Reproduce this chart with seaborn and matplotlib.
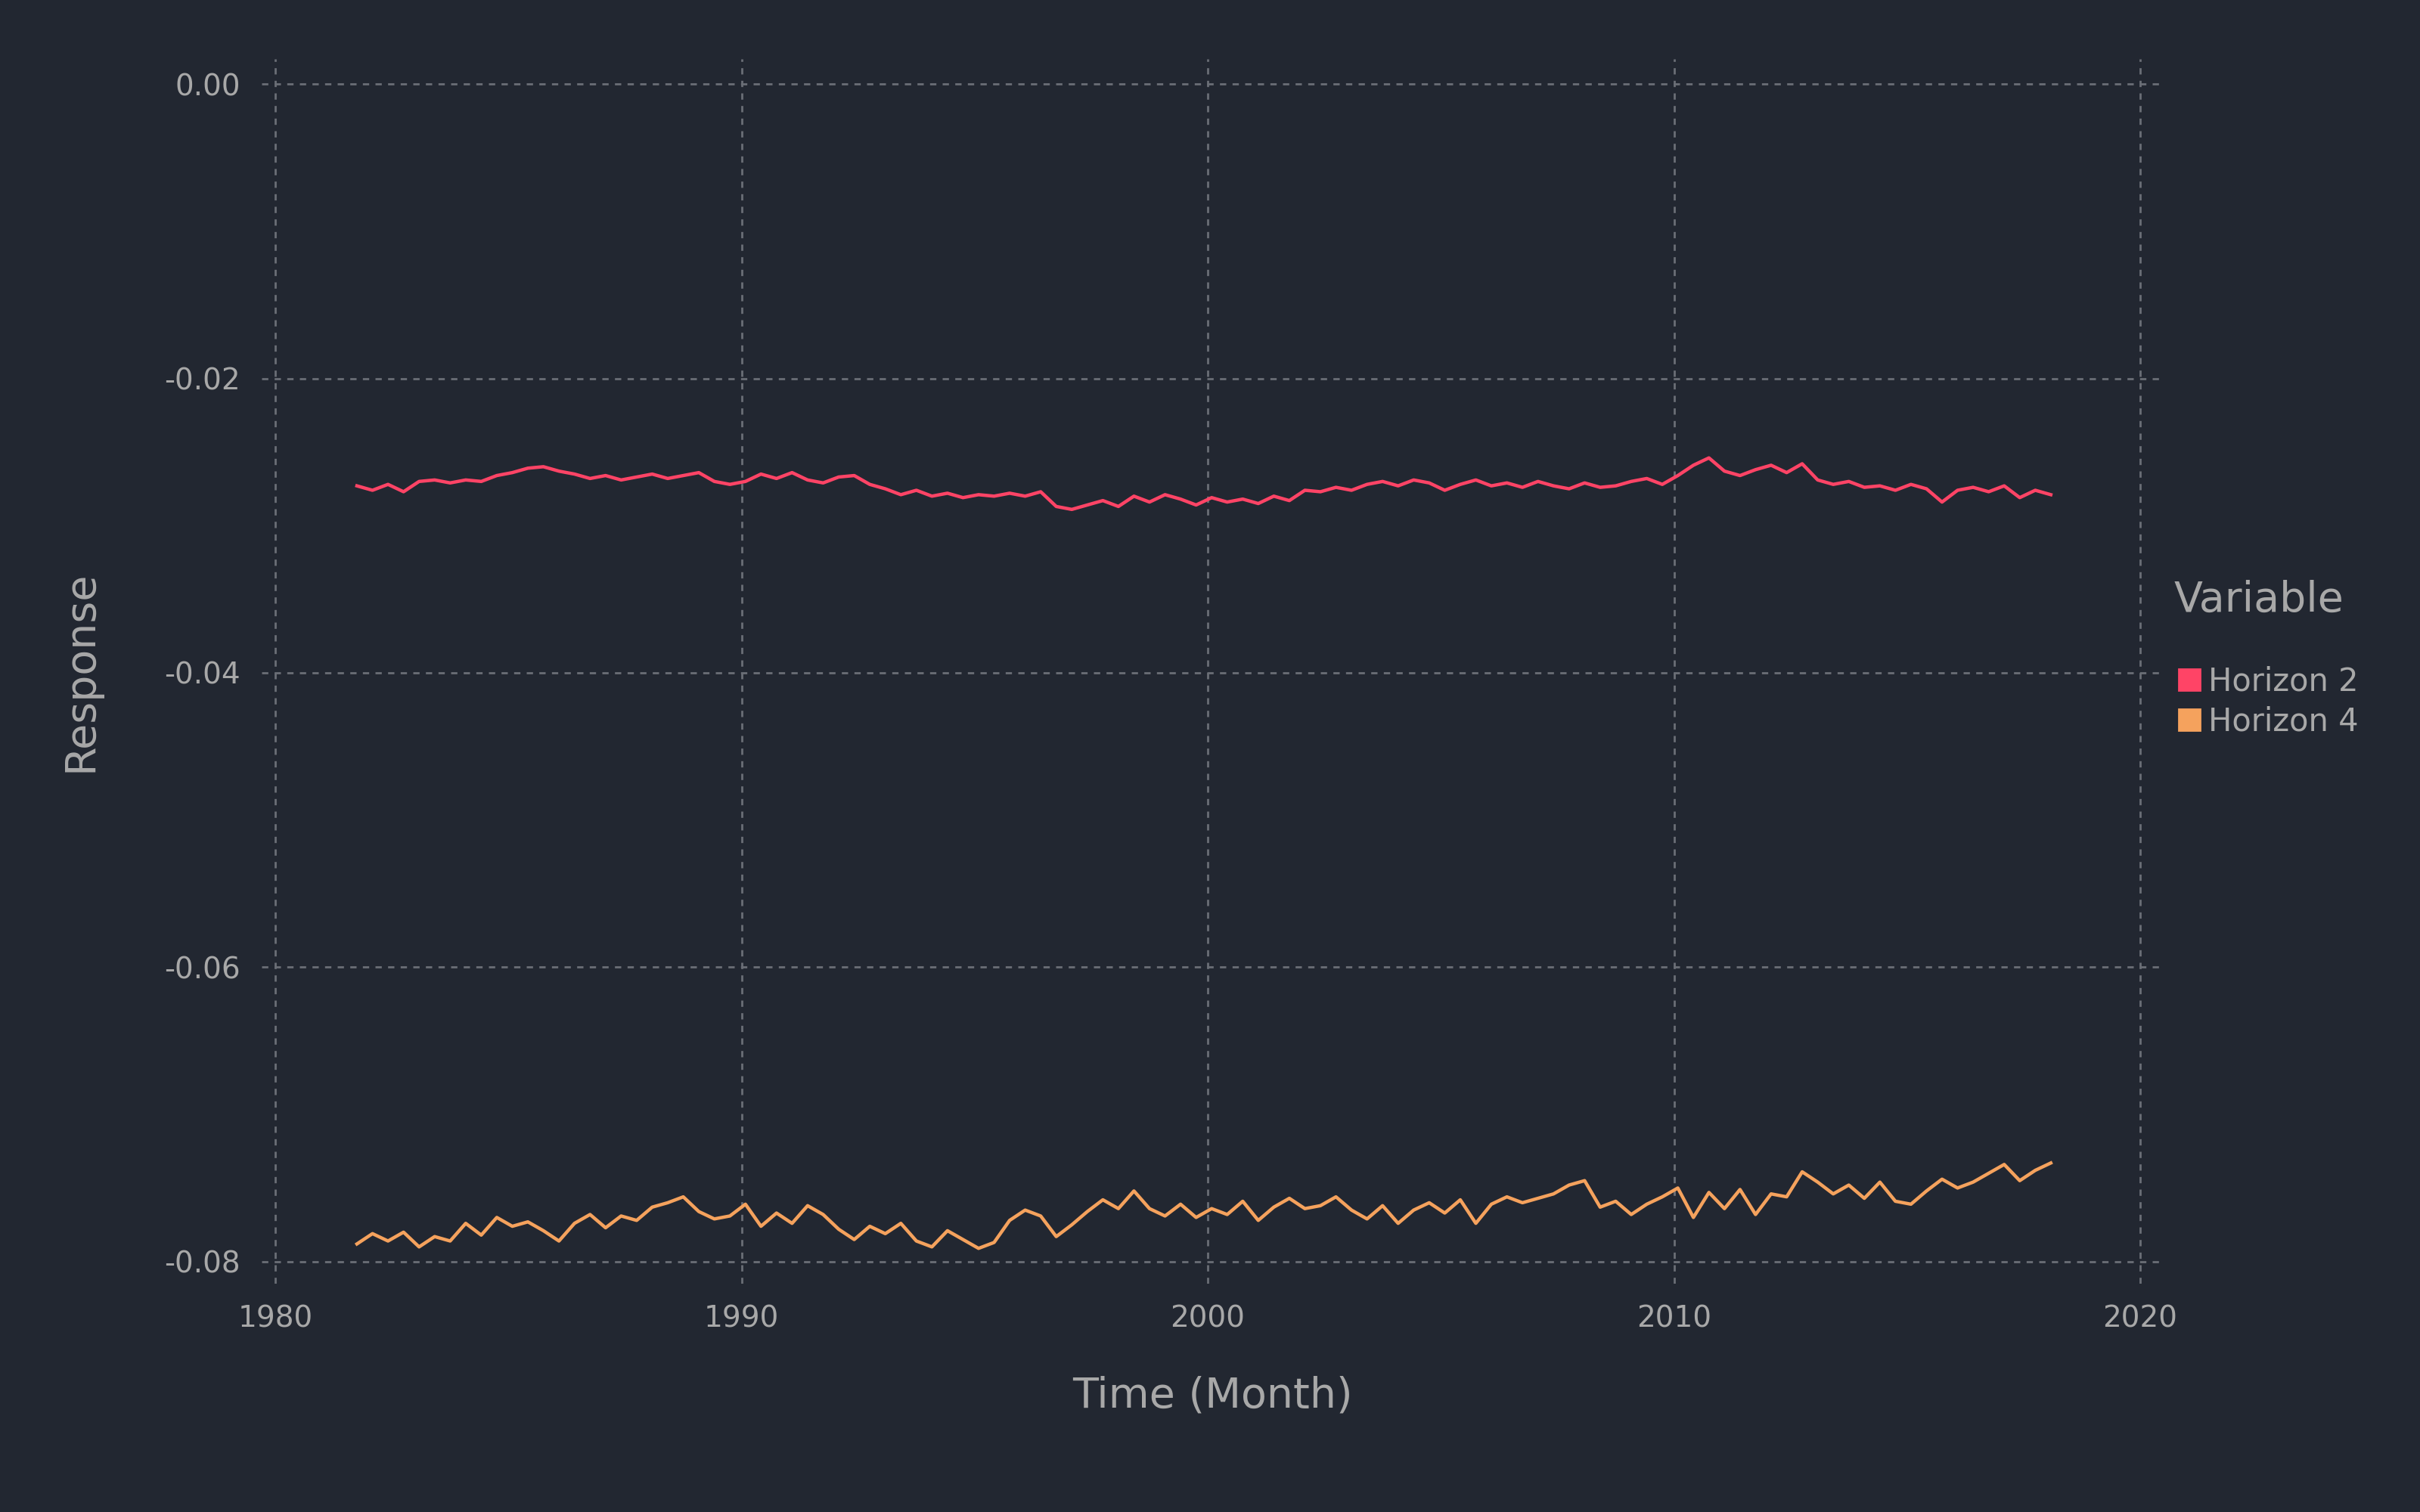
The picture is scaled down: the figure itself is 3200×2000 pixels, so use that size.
import numpy as np
import pandas as pd
import matplotlib
matplotlib.use("Agg")
import matplotlib.pyplot as plt
import seaborn as sns
from matplotlib.lines import Line2D

# Values, one every 4 months from late 1981 (units of 1e-3, sign negative)
horizon2 = [
    27.3, 27.6, 27.2, 27.7, 27.0, 26.9, 27.1, 26.9, 27.0, 26.6, 26.4, 26.1,
    26.0, 26.3, 26.5, 26.8, 26.6, 26.9, 26.7, 26.5, 26.8, 26.6, 26.4, 27.0,
    27.2, 27.0, 26.5, 26.8, 26.4, 26.9, 27.1, 26.7, 26.6, 27.2, 27.5, 27.9,
    27.6, 28.0, 27.8, 28.1, 27.9, 28.0, 27.8, 28.0, 27.7, 28.7, 28.9, 28.6,
    28.3, 28.7, 28.0, 28.4, 27.9, 28.2, 28.6, 28.1, 28.4, 28.2, 28.5, 28.0,
    28.3, 27.6, 27.7, 27.4, 27.6, 27.2, 27.0, 27.3, 26.9, 27.1, 27.6, 27.2,
    26.9, 27.3, 27.1, 27.4, 27.0, 27.3, 27.5, 27.1, 27.4, 27.3, 27.0, 26.8,
    27.2, 26.6, 25.9, 25.4, 26.3, 26.6, 26.2, 25.9, 26.4, 25.8, 26.9, 27.2,
    27.0, 27.4, 27.3, 27.6, 27.2, 27.5, 28.4, 27.6, 27.4, 27.7, 27.3, 28.1,
    27.6, 27.9,
]
horizon4 = [
    78.8, 78.1, 78.6, 78.0, 79.0, 78.3, 78.6, 77.4, 78.2, 77.0, 77.6, 77.3,
    77.9, 78.6, 77.4, 76.8, 77.7, 76.9, 77.2, 76.3, 76.0, 75.6, 76.6, 77.1,
    76.9, 76.1, 77.6, 76.7, 77.4, 76.2, 76.8, 77.8, 78.5, 77.6, 78.1, 77.4,
    78.6, 79.0, 77.9, 78.5, 79.1, 78.7, 77.2, 76.5, 76.9, 78.3, 77.5, 76.6,
    75.8, 76.4, 75.2, 76.4, 76.9, 76.1, 77.0, 76.4, 76.8, 75.9, 77.2, 76.3,
    75.7, 76.4, 76.2, 75.6, 76.5, 77.1, 76.2, 77.4, 76.5, 76.0, 76.7, 75.8,
    77.4, 76.1, 75.6, 76.0, 75.7, 75.4, 74.8, 74.5, 76.3, 75.9, 76.8, 76.1,
    75.6, 75.0, 77.0, 75.3, 76.4, 75.1, 76.8, 75.4, 75.6, 73.9, 74.6, 75.4,
    74.8, 75.7, 74.6, 75.9, 76.1, 75.2, 74.4, 75.0, 74.6, 74.0, 73.4, 74.5,
    73.8, 73.3,
]
series_names = ["Horizon 2", "Horizon 4"]
colors = ["#FF4466", "#F5A25D"]

time = 1981.75 + np.arange(len(horizon2)) / 3.0
df = pd.concat([
    pd.DataFrame({"time": time, "value": -np.array(horizon2) / 1000, "Variable": series_names[0]}),
    pd.DataFrame({"time": time, "value": -np.array(horizon4) / 1000, "Variable": series_names[1]}),
])

bg = "#222731"
txt = "#a8a8a8"
fig = plt.figure(figsize=(16, 10), dpi=200, facecolor=bg)
ax = fig.add_axes([0.108, 0.151, 0.786, 0.81], facecolor=bg)

sns.lineplot(data=df, x="time", y="value", hue="Variable",
             palette=dict(zip(series_names, colors)), linewidth=1.6, ax=ax, legend=False)

ax.set_xlim(1979.7, 2020.5)
ax.set_ylim(-0.0815, 0.0017)
ax.set_xticks([1980, 1990, 2000, 2010, 2020])
ax.set_yticks([0, -0.02, -0.04, -0.06, -0.08])
ax.set_yticklabels(["0.00", "-0.02", "-0.04", "-0.06", "-0.08"])
ax.grid(True, color="#6a6e76", linestyle=(0, (3, 3)), linewidth=1)
for s in ax.spines.values():
    s.set_visible(False)
ax.tick_params(colors=txt, labelsize=14, length=0, pad=10)
ax.set_xlabel("Time (Month)", color=txt, fontsize=20, labelpad=20)
ax.set_ylabel("Response", color=txt, fontsize=20, labelpad=30)

handles = [Line2D([], [], marker="s", linestyle="", color=c, markersize=10) for c in colors]
leg = fig.legend(handles, series_names, loc="upper left", bbox_to_anchor=(0.893, 0.625),
                 frameon=False, fontsize=15, title="Variable\n", title_fontsize=20,
                 handletextpad=0.1, handlelength=1.0, labelspacing=0.25, borderaxespad=0)
leg._legend_box.align = "left"
plt.setp(leg.get_texts(), color=txt)
leg.get_title().set_color(txt)
leg.get_title().set_linespacing(0.9)

fig.savefig("out.png", dpi=200, facecolor=bg)
